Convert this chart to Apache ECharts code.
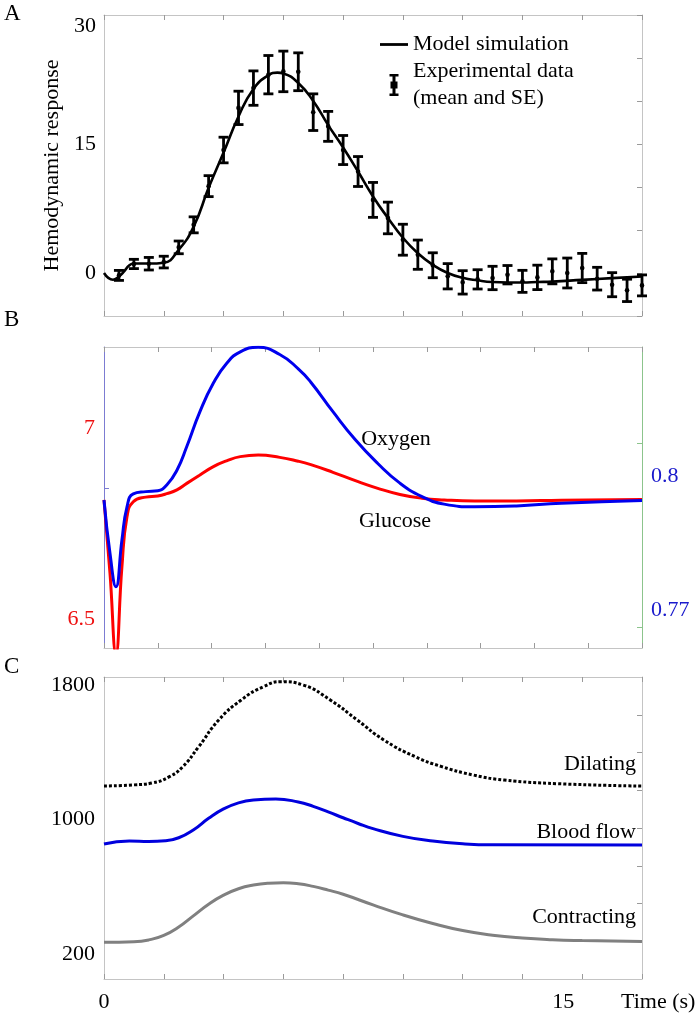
<!DOCTYPE html>
<html>
<head>
<meta charset="utf-8">
<script src="https://cdn.jsdelivr.net/npm/echarts@6/dist/echarts.min.js"></script>
<style>
  html, body { margin: 0; padding: 0; background: #fff; }
  #main { width: 698px; height: 1017px; }
</style>
</head>
<body>
<div id="main"></div>
<script>
const FONT = '"Liberation Serif", "Times New Roman", serif';
const FS = 22;

// panel A: model and experimental data
const modelTime = [0, 0.3, 0.5, 0.65, 0.85, 1.0, 1.5, 2.0, 2.5, 3.0, 3.5, 4.0, 4.5, 5.0, 5.5, 5.8, 6.0, 6.5, 7.0, 7.5, 8.0, 8.5, 9.0, 9.5, 10.0, 10.5, 11.0, 11.5, 12.0, 12.5, 13.0, 13.5, 14.0, 14.5, 15.0, 16.0, 17.0, 18.0];
const modelValue = [0, -0.78, -0.4, 0.1, 0.9, 1.1, 1.1, 1.2, 2.7, 5.4, 9.9, 14.0, 18.2, 21.4, 23.0, 23.3, 23.2, 22.1, 20.0, 17.2, 14.6, 11.8, 8.9, 6.4, 4.1, 2.3, 0.95, 0.0, -0.55, -0.85, -1.05, -1.1, -1.1, -1.05, -1.0, -0.8, -0.6, -0.4];
const expTime = [0.5, 1, 1.5, 2, 2.5, 3, 3.5, 4, 4.5, 5, 5.5, 6, 6.5, 7, 7.5, 8, 8.5, 9, 9.5, 10, 10.5, 11, 11.5, 12, 12.5, 13, 13.5, 14, 14.5, 15, 15.5, 16, 16.5, 17, 17.5, 18];
const expMean = [-0.28, 1.05, 1.08, 1.27, 2.98, 5.6, 10.1, 14.3, 19.2, 21.5, 23.06, 23.44, 23.4, 18.7, 17.05, 14.3, 11.8, 8.5, 6.4, 3.87, 2.13, 0.9, -0.38, -1.09, -0.74, -0.58, -0.2, -0.97, -0.51, 0.19, 0.0, 0.58, -0.66, -1.36, -2.02, -1.44];
const expSE = [0.58, 0.54, 0.73, 0.68, 0.74, 0.93, 1.22, 1.49, 1.94, 2.0, 2.23, 2.36, 2.2, 2.13, 1.74, 1.69, 1.74, 2.03, 1.84, 1.8, 1.7, 1.45, 1.47, 1.36, 1.12, 1.36, 1.07, 1.28, 1.42, 1.45, 1.74, 1.7, 1.32, 1.4, 1.3, 1.22];
const aTickLabels = [0, 15, 30];

// panel B: glucose (left axis) and oxygen (right axis)
const bTime = [0, 0.2, 0.4, 0.6, 0.77, 0.98, 1.4, 1.8, 2.1, 2.44, 2.77, 3.21, 3.66, 4.1, 4.56, 5.16, 5.88, 6.5, 6.92, 7.66, 8.41, 9.16, 9.9, 10.64, 11.38, 12.4, 13.8, 15.3, 18];
const glucose = [6.8115, 6.62, 6.41, 6.637, 6.768, 6.807, 6.819, 6.822, 6.828, 6.838, 6.855, 6.877, 6.899, 6.914, 6.925, 6.929, 6.923, 6.913, 6.904, 6.884, 6.862, 6.842, 6.826, 6.816, 6.8115, 6.809, 6.809, 6.811, 6.813];
const oxygen = [0.7946, 0.7827, 0.7752, 0.7857, 0.7931, 0.796, 0.7965, 0.7967, 0.798, 0.8013, 0.8066, 0.8144, 0.8208, 0.8252, 0.8278, 0.8288, 0.8272, 0.824, 0.821, 0.8144, 0.8081, 0.8028, 0.7984, 0.7954, 0.7937, 0.7931, 0.7933, 0.7939, 0.7945];
const glucoseLabels = [6.5, 7];
const oxygenLabels = [0.77, 0.8];

// panel C: vessel flows
const dilTime = [0, 1.0, 1.6, 2.19, 2.64, 3.17, 3.84, 4.59, 5.33, 5.93, 6.67, 7.57, 8.47, 9.36, 10.41, 11.3, 12.35, 13.39, 15.18, 18];
const dilating = [1200, 1207, 1218, 1256, 1316, 1435, 1594, 1713, 1792, 1822, 1802, 1713, 1594, 1475, 1375, 1316, 1266, 1236, 1214, 1200];
const flowTime = [0, 0.85, 1.5, 2.05, 2.5, 3.0, 3.5, 4.0, 4.5, 5.0, 5.75, 6.5, 7.0, 7.5, 8.0, 8.5, 9.0, 10.0, 11.0, 12.0, 13.0, 18];
const bloodFlow = [855, 873, 870, 874, 892, 940, 1008, 1064, 1100, 1117, 1123, 1105, 1079, 1046, 1011, 977, 946, 900, 872, 856, 850, 849];
const conTime = [0, 1.0, 1.5, 2.0, 2.5, 3.0, 3.5, 4.0, 4.5, 5.0, 5.5, 6.0, 6.5, 7.0, 7.5, 8.0, 9.0, 10.0, 11.0, 12.0, 13.0, 14.0, 15.0, 16.0, 18];
const contracting = [269, 272, 283, 310, 360, 428, 496, 550, 588, 610, 621, 624, 618, 602, 580, 555, 492, 432, 381, 339, 311, 294, 284, 279, 273];
const cTickLabels = [200, 1000, 1800];
const timeLabels = [0, 15];

const zip = (...cols) => cols[0].map((_, i) => cols.map(c => c[i]));

const FRAME = '#c4c4c4';
const TICK = '#9a9a9a';

function xFrame(grid, position, interval, extra) {
  return Object.assign({
    type: 'value', gridIndex: grid, position: position, min: 0, max: 18, interval: interval,
    axisLine: { show: true, onZero: false, lineStyle: { color: FRAME, width: 1 } },
    axisTick: { show: true, inside: true, length: 5, lineStyle: { color: TICK } },
    axisLabel: { show: false },
    splitLine: { show: false }
  }, extra || {});
}

function yAxisOf(grid, position, min, max, extra) {
  return Object.assign({
    type: 'value', gridIndex: grid, position: position, min: min, max: max,
    axisLine: { show: true, onZero: false, lineStyle: { color: FRAME, width: 1 } },
    axisTick: { show: false },
    axisLabel: { show: false },
    splitLine: { show: false }
  }, extra || {});
}

const plain = v => String(v);
const labelStyle = { fontFamily: FONT, fontSize: FS, color: '#000', formatter: plain };

function errorBars(params, api) {
  const t = api.value(0), m = api.value(1), e = api.value(2);
  const top = api.coord([t, m + e]);
  const bot = api.coord([t, m - e]);
  const mid = api.coord([t, m]);
  const w = 5;
  const st = { stroke: '#000', lineWidth: 2.8 };
  return {
    type: 'group',
    children: [
      { type: 'line', shape: { x1: top[0], y1: top[1], x2: bot[0], y2: bot[1] }, style: st },
      { type: 'line', shape: { x1: top[0] - w, y1: top[1], x2: top[0] + w, y2: top[1] }, style: st },
      { type: 'line', shape: { x1: bot[0] - w, y1: bot[1], x2: bot[0] + w, y2: bot[1] }, style: st },
      { type: 'circle', shape: { cx: mid[0], cy: mid[1], r: 2.3 }, style: { fill: '#000' } }
    ]
  };
}

function curve(name, xi, yi, times, values, style) {
  return {
    name: name, type: 'line', xAxisIndex: xi, yAxisIndex: yi,
    data: zip(times, values), smooth: 0.5, symbol: 'none', showSymbol: false,
    lineStyle: style, itemStyle: { color: style.color }
  };
}

const chart = echarts.init(document.getElementById('main'), null, { renderer: 'canvas' });

const gridBase = { left: 104, width: 538, containLabel: false, outerBoundsMode: 'none' };

function note(text, x, y, align, size) {
  return {
    type: 'text', x: x, y: y,
    style: { text: text, font: (size || FS) + 'px ' + FONT, fill: '#000', align: align, textAlign: align, verticalAlign: 'middle', textVerticalAlign: 'middle' }
  };
}

const option = {
  animation: false,
  backgroundColor: '#fff',
  textStyle: { fontFamily: FONT },
  grid: [
    Object.assign({ top: 15, height: 301 }, gridBase),
    Object.assign({ top: 347, height: 301 }, gridBase),
    Object.assign({ top: 677, height: 302 }, gridBase)
  ],
  legend: {
    orient: 'vertical', left: 375, top: 26, itemGap: 0,
    itemWidth: 28, itemHeight: 22, selectedMode: false,
    textStyle: { fontFamily: FONT, fontSize: FS, color: '#000', lineHeight: 27 },
    data: [
      { name: 'Model simulation', icon: 'path://M0,0H28V2.8H0Z' },
      { name: 'Experimental data\n(mean and SE)', icon: 'path://M0,0H9V2.5H6V7.5H8V14.5H6V19.5H9V22H0V19.5H3V14.5H1V7.5H3V2.5H0Z' }
    ]
  },
  xAxis: [
    xFrame(0, 'bottom', 2),
    xFrame(0, 'top', 2),
    xFrame(1, 'bottom', 1.8),
    xFrame(1, 'top', 1.8),
    xFrame(2, 'bottom', 2, {
      axisLabel: {
        show: true, customValues: timeLabels, margin: 12,
        fontFamily: FONT, fontSize: FS, color: '#000',
        formatter: v => (v === 15 ? '{p|15}' : String(v)),
        rich: { p: { fontFamily: FONT, fontSize: FS, color: '#000', padding: [0, 0, 0, 22] } }
      },
      name: 'Time (s)', nameLocation: 'end', nameGap: -21,
      nameTextStyle: { fontFamily: FONT, fontSize: FS, color: '#000', verticalAlign: 'top', padding: [12, 0, 0, 0] }
    }),
    xFrame(2, 'top', 2)
  ],
  yAxis: [
    yAxisOf(0, 'left', -5, 30, {
      axisLabel: Object.assign({ show: true, customValues: aTickLabels, margin: 8, verticalAlignMaxLabel: 'top' }, labelStyle),
      name: 'Hemodynamic response', nameLocation: 'middle', nameGap: 40, nameRotate: 90,
      nameTextStyle: { fontFamily: FONT, fontSize: FS, color: '#000' }
    }),
    yAxisOf(0, 'right', -5, 30, {
      interval: 5,
      axisTick: { show: true, inside: true, length: 5, lineStyle: { color: TICK } }
    }),
    yAxisOf(1, 'left', 6.424, 7.212, {
      axisLine: { show: true, onZero: false, lineStyle: { color: '#7c7cd2', width: 1 } },
      axisTick: { show: true, inside: true, length: 5, customValues: [6.843], lineStyle: { color: '#7c7cd2' } },
      axisLabel: { show: true, customValues: glucoseLabels, margin: 9, fontFamily: FONT, fontSize: FS, color: '#ee1111', formatter: plain }
    }),
    yAxisOf(1, 'right', 0.76149, 0.82888, {
      axisLine: { show: true, onZero: false, lineStyle: { color: '#8cc48c', width: 1 } },
      axisTick: { show: true, inside: true, length: 5, customValues: [0.8074, 0.7662], lineStyle: { color: '#8cc48c' } },
      axisLabel: { show: true, customValues: oxygenLabels, margin: 9, fontFamily: FONT, fontSize: FS, color: '#1a1acc', formatter: plain }
    }),
    yAxisOf(2, 'left', 50, 1850, {
      axisLabel: Object.assign({ show: true, customValues: cTickLabels, margin: 9 }, labelStyle)
    }),
    yAxisOf(2, 'right', 50, 1850, {
      axisTick: { show: true, inside: true, length: 5, customValues: [275, 500, 725, 950, 1175, 1400, 1625], lineStyle: { color: TICK } }
    })
  ],
  series: [
    curve('Model simulation', 0, 0, modelTime, modelValue, { color: '#000', width: 2.6 }),
    {
      name: 'Experimental data\n(mean and SE)', type: 'custom', xAxisIndex: 0, yAxisIndex: 0,
      data: zip(expTime, expMean, expSE), encode: { x: 0, y: 1 },
      renderItem: errorBars, itemStyle: { color: '#000' }, z: 3
    },
    curve('Glucose', 2, 2, bTime, glucose, { color: '#ff0000', width: 3 }),
    curve('Oxygen', 3, 3, bTime, oxygen, { color: '#0000ee', width: 3 }),
    curve('Dilating', 4, 4, dilTime, dilating, { color: '#000', width: 3, type: [3, 2] }),
    curve('Blood flow', 4, 4, flowTime, bloodFlow, { color: '#0000dd', width: 3 }),
    curve('Contracting', 4, 4, conTime, contracting, { color: '#808080', width: 3 })
  ],
  graphic: [
    note('A', 4, 14, 'left', 23),
    note('B', 4, 320, 'left', 23),
    note('C', 4, 667, 'left', 23),
    note('Oxygen', 396, 439, 'center'),
    note('Glucose', 395, 521, 'center'),
    note('Dilating', 636, 764, 'right'),
    note('Blood flow', 636, 832, 'right'),
    note('Contracting', 636, 917, 'right')
  ]
};

chart.setOption(option);
window.onresize = function () { chart.resize(); };
</script>
</body>
</html>
